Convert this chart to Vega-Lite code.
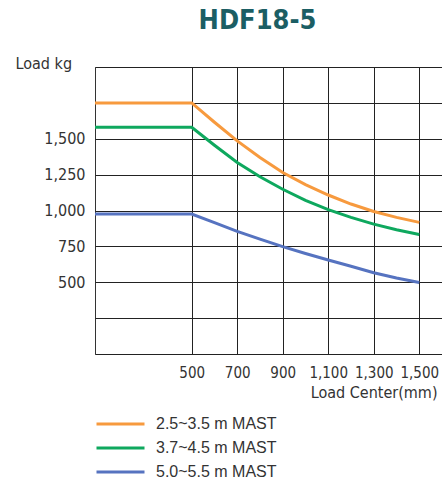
{
  "$schema": "https://vega.github.io/schema/vega-lite/v6.json",
  "autosize": {"type": "none"},
  "padding": {"left": 95, "top": 67, "right": 0, "bottom": 124},
  "width": 347,
  "height": 287,
  "background": "white",
  "title": {
    "text": "HDF18-5",
    "font": "DejaVu Sans Condensed, Roboto, sans-serif",
    "fontSize": 27,
    "fontWeight": "bold",
    "color": "#1b5e64",
    "anchor": "middle",
    "frame": "group",
    "dx": -11,
    "offset": 20
  },
  "config": {
    "view": {"stroke": "#333333", "strokeWidth": 1},
    "font": "DejaVu Sans Condensed, Roboto, sans-serif"
  },
  "data": {
    "values": [
      {"mast": "2.5~3.5 m MAST", "lc": 75, "load": 1750},
      {"mast": "2.5~3.5 m MAST", "lc": 500, "load": 1750},
      {"mast": "2.5~3.5 m MAST", "lc": 600, "load": 1615},
      {"mast": "2.5~3.5 m MAST", "lc": 700, "load": 1485},
      {"mast": "2.5~3.5 m MAST", "lc": 800, "load": 1370},
      {"mast": "2.5~3.5 m MAST", "lc": 900, "load": 1265},
      {"mast": "2.5~3.5 m MAST", "lc": 1000, "load": 1180},
      {"mast": "2.5~3.5 m MAST", "lc": 1100, "load": 1108},
      {"mast": "2.5~3.5 m MAST", "lc": 1200, "load": 1045},
      {"mast": "2.5~3.5 m MAST", "lc": 1300, "load": 993},
      {"mast": "2.5~3.5 m MAST", "lc": 1400, "load": 952},
      {"mast": "2.5~3.5 m MAST", "lc": 1500, "load": 917},
      {"mast": "3.7~4.5 m MAST", "lc": 75, "load": 1580},
      {"mast": "3.7~4.5 m MAST", "lc": 500, "load": 1580},
      {"mast": "3.7~4.5 m MAST", "lc": 600, "load": 1455},
      {"mast": "3.7~4.5 m MAST", "lc": 700, "load": 1335},
      {"mast": "3.7~4.5 m MAST", "lc": 800, "load": 1235},
      {"mast": "3.7~4.5 m MAST", "lc": 900, "load": 1148},
      {"mast": "3.7~4.5 m MAST", "lc": 1000, "load": 1070},
      {"mast": "3.7~4.5 m MAST", "lc": 1100, "load": 1006},
      {"mast": "3.7~4.5 m MAST", "lc": 1200, "load": 952},
      {"mast": "3.7~4.5 m MAST", "lc": 1300, "load": 905},
      {"mast": "3.7~4.5 m MAST", "lc": 1400, "load": 866},
      {"mast": "3.7~4.5 m MAST", "lc": 1500, "load": 833},
      {"mast": "5.0~5.5 m MAST", "lc": 75, "load": 975},
      {"mast": "5.0~5.5 m MAST", "lc": 500, "load": 975},
      {"mast": "5.0~5.5 m MAST", "lc": 600, "load": 915},
      {"mast": "5.0~5.5 m MAST", "lc": 700, "load": 855},
      {"mast": "5.0~5.5 m MAST", "lc": 800, "load": 800},
      {"mast": "5.0~5.5 m MAST", "lc": 900, "load": 748},
      {"mast": "5.0~5.5 m MAST", "lc": 1000, "load": 700},
      {"mast": "5.0~5.5 m MAST", "lc": 1100, "load": 655},
      {"mast": "5.0~5.5 m MAST", "lc": 1200, "load": 612},
      {"mast": "5.0~5.5 m MAST", "lc": 1300, "load": 566},
      {"mast": "5.0~5.5 m MAST", "lc": 1400, "load": 530},
      {"mast": "5.0~5.5 m MAST", "lc": 1500, "load": 498}
    ]
  },
  "mark": {"type": "line", "strokeWidth": 3, "clip": true},
  "encoding": {
    "x": {
      "field": "lc",
      "type": "quantitative",
      "scale": {"domain": [75, 1600], "nice": false, "zero": false},
      "axis": {
        "values": [500, 700, 900, 1100, 1300, 1500],
        "format": ",d",
        "labelOverlap": false,
        "grid": true,
        "gridColor": "#222222",
        "gridWidth": 1,
        "domain": false,
        "ticks": false,
        "labelFont": "DejaVu Sans Condensed, Roboto, sans-serif",
        "labelFontSize": 15,
        "labelColor": "#333333",
        "labelPadding": 11,
        "labelFlush": false,
        "title": "Load Center(mm)",
        "titleFont": "DejaVu Sans Condensed, Roboto, sans-serif",
        "titleFontSize": 16,
        "titleFontWeight": "normal",
        "titleColor": "#333333",
        "titleAnchor": "end",
        "titleAlign": "right",
        "titleX": 342,
        "titleY": 43,
        "titleBaseline": "alphabetic"
      }
    },
    "y": {
      "field": "load",
      "type": "quantitative",
      "scale": {"domain": [0, 2000], "nice": false},
      "axis": {
        "values": [0, 250, 500, 750, 1000, 1250, 1500, 1750, 2000],
        "labelExpr": "datum.value >= 500 && datum.value <= 1500 ? format(datum.value, ',d') : ''",
        "labelOverlap": false,
        "grid": true,
        "gridColor": "#222222",
        "gridWidth": 1,
        "domain": false,
        "ticks": false,
        "labelFont": "DejaVu Sans Condensed, Roboto, sans-serif",
        "labelFontSize": 16,
        "labelColor": "#333333",
        "labelPadding": 10,
        "title": "Load  kg",
        "titleFont": "DejaVu Sans Condensed, Roboto, sans-serif",
        "titleFontSize": 16,
        "titleFontWeight": "normal",
        "titleColor": "#333333",
        "titleAngle": 0,
        "titleAlign": "left",
        "titleBaseline": "alphabetic",
        "titleX": -80,
        "titleY": 1
      }
    },
    "color": {
      "field": "mast",
      "type": "nominal",
      "scale": {
        "domain": ["2.5~3.5 m MAST", "3.7~4.5 m MAST", "5.0~5.5 m MAST"],
        "range": ["#f79a3e", "#0ea85e", "#5673c0"]
      },
      "legend": {
        "title": null,
        "orient": "none",
        "legendX": 0,
        "legendY": 345,
        "symbolType": "stroke",
        "symbolSize": 2304,
        "symbolStrokeWidth": 3,
        "clipHeight": 24,
        "rowPadding": 0,
        "labelOffset": 10,
        "labelFont": "Liberation Sans",
        "labelFontSize": 16,
        "labelColor": "#333333",
        "padding": 0
      }
    }
  }
}
